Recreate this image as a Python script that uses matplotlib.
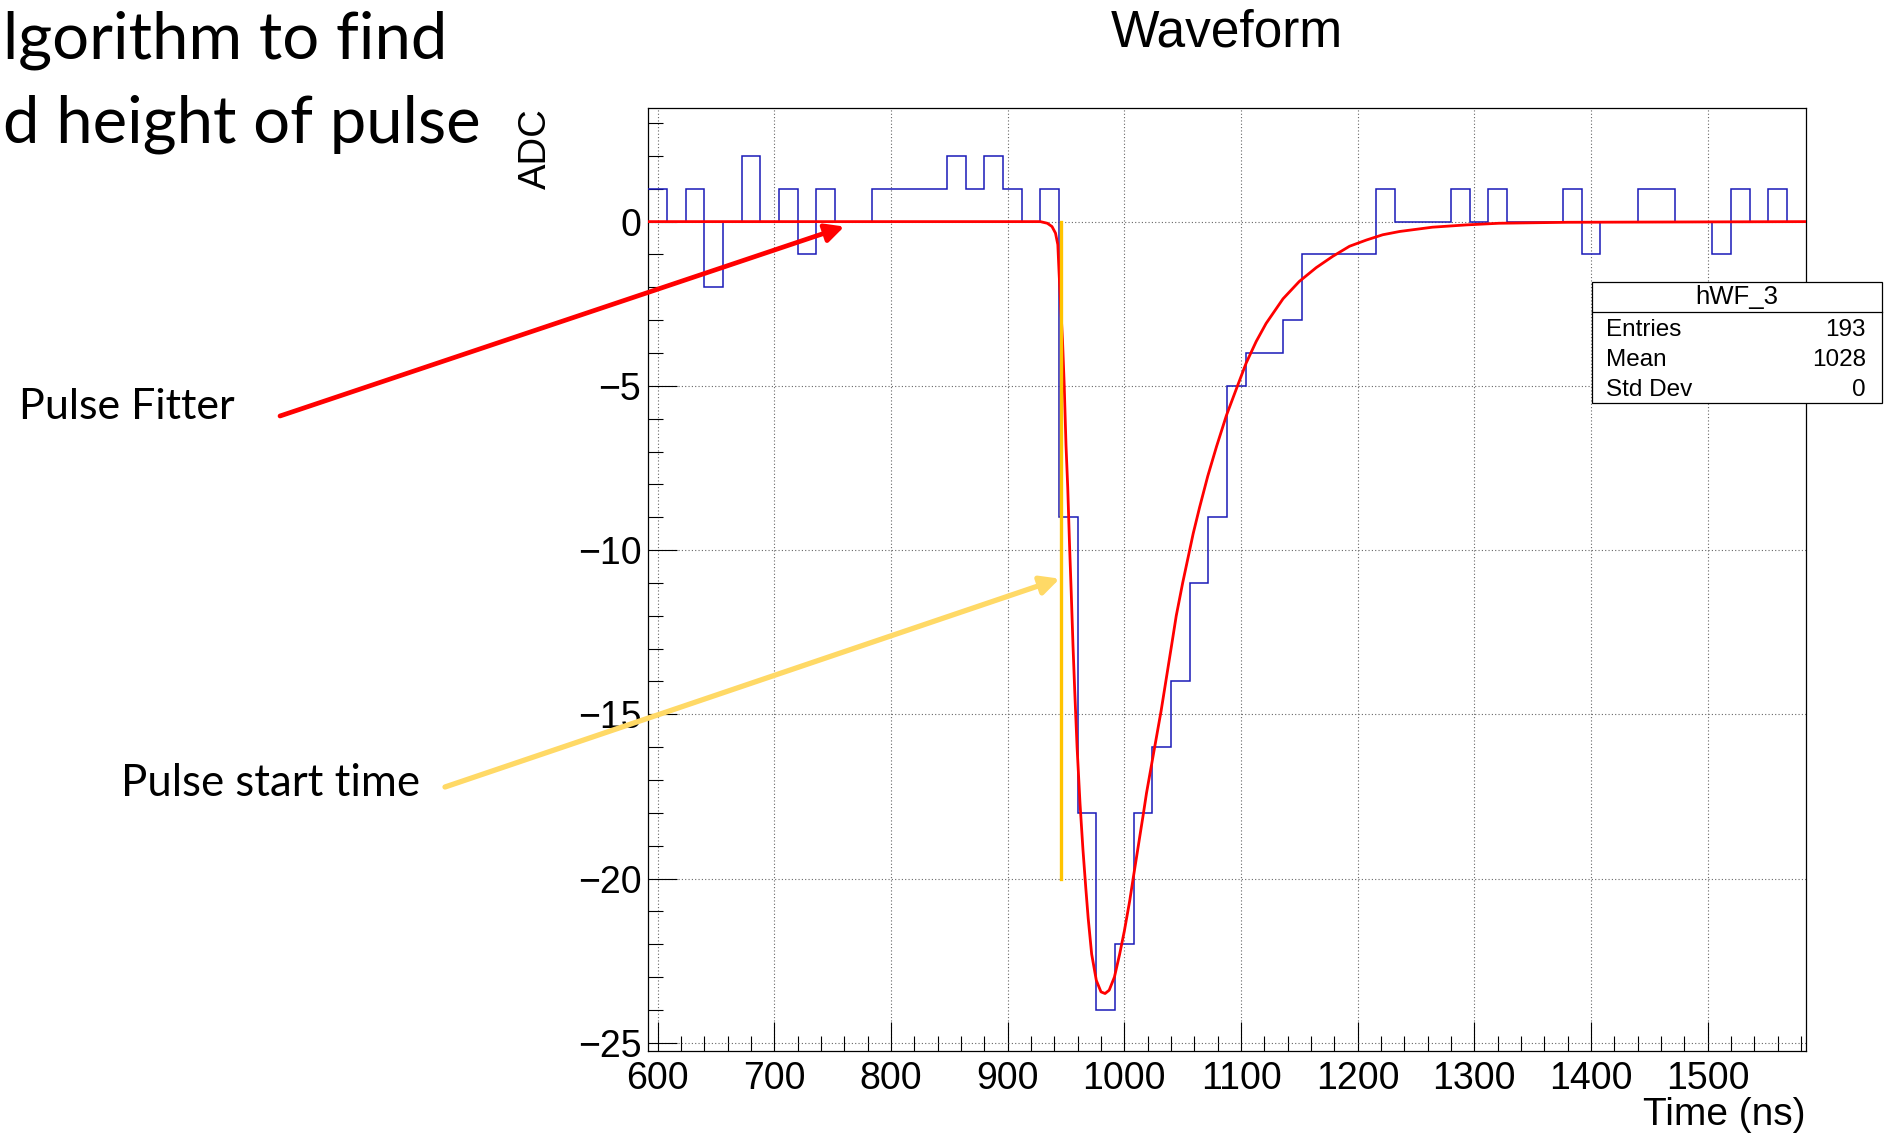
import numpy as np
import matplotlib.pyplot as plt
from matplotlib.patches import Rectangle
from matplotlib.lines import Line2D

# Waveform histogram (16 ns bins from 592 to 1584 ns)
t_first, t_last, bin_ns = 592, 1584, 16
adc_counts = [1, 0, 1, -2, 0, 2, 0, 1, -1, 1, 0, 0, 1, 1, 1, 1, 2, 1, 2, 1, 0, 1,
              -9, -18, -24, -22, -18, -16, -14, -11, -9, -5, -4, -4, -3,
              -1, -1, -1, -1, 1, 0, 0, 0, 1, 0, 1, 0, 0, 0, 1, -1, 0, 0,
              1, 1, 0, 0, -1, 1, 0, 1, 0]

# Pulse fit curve
fit_t = [592, 900, 928, 934, 938, 941, 943, 944, 945.5, 947,
         948.5, 950, 951.5, 953, 954.5, 956, 957.5, 959.5, 962, 964.5,
         967, 969, 972, 976, 980, 983.5, 987, 991.5, 996, 1000,
         1004.5, 1008, 1012, 1016, 1019, 1024.5, 1031.5, 1036, 1040.5, 1044.5,
         1050, 1053, 1059, 1064.5, 1071.5, 1079, 1087.5, 1097, 1104.5, 1113,
         1121.5, 1136, 1150, 1164.5, 1178.5, 1193, 1207.5, 1221.5, 1236, 1264,
         1293, 1321, 1380, 1584]
fit_adc = [0, 0, 0, -0.05, -0.15, -0.35, -0.7, -1.5, -2.6, -3.6,
           -5.0, -6.8, -8.1, -9.8, -11.3, -12.9, -14.3, -16.0, -17.7, -19.1,
           -20.3, -21.2, -22.3, -23.1, -23.45, -23.5, -23.4, -23.0, -22.3, -21.6,
           -20.7, -19.9, -19.0, -18.1, -17.4, -16.3, -14.9, -13.9, -12.9, -12.0,
           -11.0, -10.5, -9.5, -8.7, -7.75, -6.85, -5.9, -5.0, -4.3, -3.65,
           -3.1, -2.35, -1.82, -1.4, -1.06, -0.75, -0.56, -0.4, -0.3, -0.17,
           -0.1, -0.05, -0.02, 0]

# Pulse start marker
pulse_start = 946
pulse_line_bottom = -20

# Stats box
stats_name = "hWF_3"
stats_labels = ["Entries", "Mean", "Std Dev"]
stats_values = ["193", "1028", "0"]

W, H = 1896, 1136
fig = plt.figure(figsize=(W / 100, H / 100), dpi=100)


def fx(px):
    return px / W


def fy(py):
    return 1 - py / H


ax = fig.add_axes([fx(648.3), fy(1051), fx(1805.7) - fx(648.3), fy(108.3) - fy(1051)])

root_font = "Liberation Sans"
slide_font = "Lato"

edges = np.arange(t_first, t_last + 1, bin_ns)
ax.stairs(adc_counts, edges, baseline=None, color="#1a1ab8", lw=1.1, zorder=3)
ax.plot(fit_t, fit_adc, color="#ff0000", lw=2.0, zorder=4)
ax.plot([pulse_start, pulse_start], [0, pulse_line_bottom], color="#ffc400", lw=2.4, zorder=5)

ax.set_xlim(t_first, t_last)
ax.set_ylim(-25.25, 3.45)
ax.set_xticks(np.arange(600, 1501, 100))
ax.set_xticks(np.arange(600, 1581, 20), minor=True)
ax.set_yticks(np.arange(-25, 1, 5))
ax.set_yticks(np.arange(-25, 4, 1), minor=True)
ax.tick_params(which="both", direction="in", width=0.8, labelsize=27)
ax.tick_params(axis="x", pad=7)
ax.tick_params(axis="y", pad=5)
ax.tick_params(which="major", length=21)
ax.tick_params(which="minor", length=11)
for lab in ax.get_xticklabels() + ax.get_yticklabels():
    lab.set_fontfamily(root_font)
for sp in ax.spines.values():
    sp.set_linewidth(0.9)
ax.grid(which="major", linestyle=(0, (1, 2)), color="#666666", lw=0.8)

ax.set_xlabel("Time (ns)", fontsize=28, fontfamily=root_font)
ax.xaxis.set_label_coords(1.0, -64 / 942.7)
ax.xaxis.label.set(ha="right", va="center")
ax.set_ylabel("ADC", fontsize=27.5, fontfamily=root_font)
ax.yaxis.set_label_coords((536 - 648.3) / 1157.4, 1.0)
ax.yaxis.label.set(ha="center", va="top", rotation_mode="default")

fig.text(fx(1227), fy(33), "Waveform", fontsize=37, fontfamily=root_font,
         ha="center", va="center")

# Stats box
fig.add_artist(Rectangle((fx(1591.7), fy(403.3)), fx(1882.3) - fx(1591.7), fy(282.3) - fy(403.3),
                         transform=fig.transFigure, facecolor="white", edgecolor="black",
                         lw=0.9, zorder=10))
fig.add_artist(Line2D([fx(1591.7), fx(1882.3)], [fy(312.3), fy(312.3)],
                      transform=fig.transFigure, color="black", lw=0.9, zorder=11))
fig.text(fx(1736.7), fy(297), stats_name, fontsize=18.5, fontfamily=root_font,
         ha="center", va="center", zorder=12)
row_y = [330, 360, 390]
for lab, val, ry in zip(stats_labels, stats_values, row_y):
    fig.text(fx(1606), fy(ry), lab, fontsize=17.5, fontfamily=root_font,
             ha="left", va="center", zorder=12)
    fig.text(fx(1866), fy(ry), val, fontsize=17.5, fontfamily=root_font,
             ha="right", va="center", zorder=12)

# Slide text
fig.text(fx(3), fy(58), "lgorithm to find", fontsize=47, fontfamily=slide_font,
         ha="left", va="baseline")
fig.text(fx(3), fy(143), "d height of pulse", fontsize=47, fontfamily=slide_font,
         ha="left", va="baseline")
fig.text(fx(19), fy(407), "Pulse Fitter", fontsize=31, fontfamily=slide_font,
         ha="left", va="center")
fig.text(fx(121), fy(783), "Pulse start time", fontsize=31.5, fontfamily=slide_font,
         ha="left", va="center")

# Arrows
ax.annotate("", xy=(760, -0.15), xytext=(fx(280), fy(416)), textcoords="figure fraction",
            arrowprops=dict(arrowstyle="-|>", color="#ff0000", lw=3.4,
                            mutation_scale=28, shrinkA=0, shrinkB=0),
            annotation_clip=False, zorder=6)
ax.annotate("", xy=(944.6, -10.87), xytext=(fx(445), fy(787)), textcoords="figure fraction",
            arrowprops=dict(arrowstyle="-|>", color="#ffd966", lw=3.8,
                            mutation_scale=28, shrinkA=0, shrinkB=0),
            annotation_clip=False, zorder=6)

fig.savefig("out.png", dpi=100)
